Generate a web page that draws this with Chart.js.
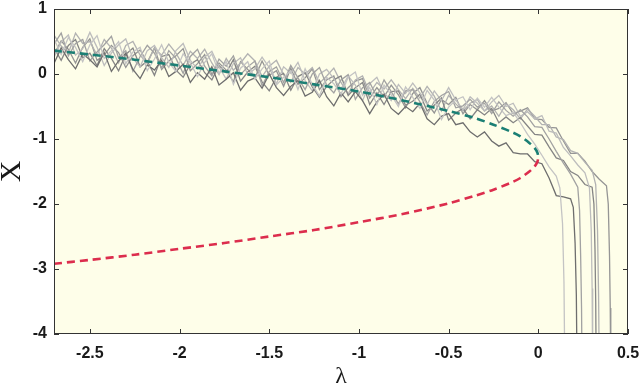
<!DOCTYPE html>
<html>
<head>
<meta charset="utf-8">
<script src="https://cdn.jsdelivr.net/npm/chart.js@4.4.0/dist/chart.umd.min.js"></script>
<style>
  html, body { margin: 0; padding: 0; background: #fff; }
</style>
</head>
<body>
<canvas id="myChart" width="640" height="388"></canvas>
<script>
// lambda grid for the noisy realisations
const lambdaGrid = [-2.70,-2.66,-2.62,-2.58,-2.54,-2.50,-2.46,-2.42,-2.38,-2.34,-2.30,-2.26,-2.22,-2.18,-2.14,-2.10,-2.06,-2.02,-1.98,-1.94,
  -1.90,-1.86,-1.82,-1.78,-1.74,-1.70,-1.66,-1.62,-1.58,-1.54,-1.50,-1.46,-1.42,-1.38,-1.34,-1.30,-1.26,-1.22,-1.18,-1.14,
  -1.10,-1.06,-1.02,-0.98,-0.94,-0.90,-0.86,-0.82,-0.78,-0.74,-0.70,-0.66,-0.62,-0.58,-0.54,-0.50,-0.46,-0.42,-0.38,-0.34,
  -0.30,-0.26,-0.22,-0.18,-0.14,-0.10,-0.06,-0.02,0.02,0.06,0.10,0.14,0.18,0.22,0.26,0.30,0.34,0.38];

const run1 = [.54,.30,.56,.41,.19,.45,.59,.24,.36,.50,.16,.34,.41,.05,.23,.45,.18,.04,.31,.17,
  -.04,.18,.31,.01,.19,-.16,.09,.19,-.08,.08,.20,-.17,-.05,.05,-.24,.08,-.16,-.34,-.05,-.15,
  -.31,-.05,.03,-.33,-.21,-.47,-.17,-.32,-.50,-.20,-.36,-.53,-.25,-.40,-.70,-.51,-.40,-.35,-.55,-.37,
  -.51,-.36,-.51,-.64,-.59,-.75,-.93,-1.08,-1.25,-1.43,-1.57];
const run2 = [.16,.40,.22,.08,.31,.22,.11,.33,.04,.20,.32,.07,-.07,.14,.06,.21,-.04,.04,.15,-.13,
  .02,-.08,.11,-.17,-.08,.02,-.25,-.11,-.06,-.22,0,-.21,-.33,-.19,-.10,-.34,-.28,-.10,-.35,-.49,
  -.29,-.43,-.27,-.41,-.61,-.43,-.31,-.53,-.62,-.50,-.58,-.45,-.69,-.78,-.65,-.61,-.78,-.75,-.89,-.97,
  -.89,-1.03,-1.11,-1.06,-1.21,-1.23,-1.23,-1.35,-1.38,-1.60,-1.87,-1.89,-1.92];
const run3 = [.46,.63,.28,.47,.53,.20,.34,.45,.58,.25,.36,.04,.27,.44,.32,.09,.36,.24,.01,.27,
  .38,.12,-.03,.23,.12,.28,-.01,.11,.20,-.18,.04,.11,-.13,.13,-.06,-.24,0,.10,-.17,-.29,
  -.09,-.01,-.39,-.21,-.13,-.35,-.09,-.27,-.46,-.26,-.24,-.43,-.63,-.42,-.33,-.27,-.52,-.49,-.39,-.51,
  -.45,-.61,-.43,-.56,-.65,-.55,-.66,-.81,-.82,-1.00,-1.19,-1.37,-1.54,-1.74];
const run4 = [.26,.49,.60,.29,.39,.64,.41,.13,.32,.45,.54,.24,.11,.36,.44,.25,.10,.36,.47,.21,
  .08,.26,.35,.11,-.08,.16,.25,-.01,.08,.26,.10,-.15,.11,.01,.18,-.10,-.26,0,.07,-.07,
  -.23,-.03,-.17,-.41,-.15,-.05,-.29,-.41,-.16,-.30,-.14,-.29,-.47,-.26,-.41,-.21,-.40,-.55,-.35,-.45,
  -.57,-.43,-.33,-.50,-.45,-.65,-.58,-.69,-.64,-.88,-.91,-1.13,-1.26,-1.40,-1.52];
const run5 = [.40,.21,.44,.53,.25,.32,.13,.39,.24,.05,.30,.40,.11,.20,-.02,.27,.30,.06,-.05,.15,
  .22,.02,-.09,.13,.02,.22,-.11,.03,.12,-.12,-.26,-.05,.01,-.25,-.04,.02,-.20,-.36,-.19,-.09,
  -.03,-.33,-.21,-.13,-.47,-.29,-.47,-.27,-.26,-.48,-.42,-.31,-.57,-.48,-.37,-.71,-.60,-.53,-.69,-.55,
  -.63,-.53,-.75,-.66,-.75,-.67,-.80,-.93,-.94,-1.12,-1.29,-1.33,-1.50,-1.56,-1.70,-1.74];
const run6 = [.60,.43,.32,.63,.47,.50,.29,.53,.40,.17,.44,.50,.29,.16,.40,.29,.46,.32,.13,.35,
  .24,.38,.17,-.01,.24,.06,.17,.31,.20,-.04,.12,.21,-.01,-.13,.10,0,.10,-.14,-.03,.09,
  -.13,-.31,-.09,-.03,-.29,-.13,-.23,-.09,-.24,-.38,-.22,-.37,-.19,-.34,-.57,-.33,-.46,-.57,-.45,-.39,
  -.57,-.49,-.65,-.46,-.55,-.69,-.54,-.65,-.78,-.78,-.97,-1.01,-1.18,-1.22,-1.36,-1.48];
const run7 = [.30,.51,.38,.17,.41,.54,.21,.29,.44,.33,.10,.28,.37,.18,.40,.07,.20,.28,.39,.05,
  .16,.30,-.01,.17,.06,-.12,.19,.07,-.06,.20,-.02,.05,-.19,.09,-.16,-.06,.08,-.24,-.09,-.03,
  -.35,-.21,-.11,-.07,-.37,-.21,-.35,-.17,-.32,-.52,-.30,-.21,-.45,-.60,-.39,-.47,-.36,-.61,-.47,-.55,
  -.41,-.57,-.53,-.44,-.61,-.57,-.52,-.69,-.70,-.82,-.83,-1.03,-1.22,-1.22,-1.34,-1.50,-1.62,-1.72];
const runs = [run1, run2, run3, run4, run5, run6, run7];

// collapse of each realisation after the tipping point
const dropLam = [[0.12,0.135,0.143,0.148],[0.195,0.205,0.212,0.216],[0.23,0.236,0.241,0.244],
  [0.285,0.295,0.30,0.303],[0.31,0.316,0.32,0.323],[0.32,0.33,0.336,0.34],[0.39,0.397,0.401,0.404]];
const dropX = [[-1.75,-2.3,-3.2,-4.6],[-2.05,-2.6,-3.4,-4.6],[-2.1,-2.8,-3.6,-4.6],
  [-1.75,-2.4,-3.3,-4.6],[-2.0,-2.7,-3.5,-4.6],[-1.7,-2.4,-3.4,-4.6],[-2.0,-2.8,-3.6,-4.6]];
const runColors = ['#c4c4c4','#6e6e6e','#a2a2a2','#bdbdbd','#858585','#b2b2b2','#959595'];

// stable (teal) and unstable (red) equilibrium branches
const branchLam = [-2.70,-2.50,-2.25,-2.00,-1.75,-1.50,-1.25,-1.00,-0.75,-0.50,-0.35,-0.25,-0.15,-0.10,-0.05,-0.02,-0.005,0];
const stableX = [0.36,0.30,0.22,0.13,0.04,-0.05,-0.16,-0.27,-0.41,-0.57,-0.68,-0.78,-0.89,-0.96,-1.06,-1.14,-1.21,-1.28];
const unstableX = [-2.92,-2.86,-2.78,-2.69,-2.60,-2.50,-2.40,-2.28,-2.15,-1.99,-1.87,-1.78,-1.67,-1.60,-1.50,-1.42,-1.35,-1.28];

const xTicks = [-2.5,-2,-1.5,-1,-0.5,0,0.5];
const yTicks = [-4,-3,-2,-1,0,1];

const datasets = [];
datasets.push({
  data: branchLam.map((l, i) => ({x: l, y: stableX[i]})),
  borderColor: '#1b7f74', borderWidth: 2.6, borderDash: [8, 5],
  pointRadius: 0, showLine: true, tension: 0.3, order: 0
});
datasets.push({
  data: branchLam.map((l, i) => ({x: l, y: unstableX[i]})),
  borderColor: '#dc2d4d', borderWidth: 2.6, borderDash: [8, 5],
  pointRadius: 0, showLine: true, tension: 0.3, order: 0
});
runs.forEach((r, k) => {
  const pts = r.map((v, i) => ({x: lambdaGrid[i], y: v}));
  dropLam[k].forEach((l, j) => pts.push({x: l, y: dropX[k][j]}));
  datasets.push({
    data: pts, borderColor: runColors[k], borderWidth: 1.3,
    pointRadius: 0, showLine: true, tension: 0, order: 1, clip: 0
  });
});

const frame = {
  id: 'frame',
  beforeDraw(chart) {
    const {ctx, chartArea: a} = chart;
    ctx.save();
    ctx.fillStyle = '#fefee9';
    ctx.fillRect(a.left, a.top, a.right - a.left, a.bottom - a.top);
    ctx.restore();
  },
  afterDraw(chart) {
    const {ctx, chartArea: a, scales} = chart;
    ctx.save();
    ctx.strokeStyle = '#333';
    ctx.lineWidth = 1;
    ctx.strokeRect(a.left + 0.5, a.top + 0.5, a.right - a.left - 1, a.bottom - a.top - 1);
    ctx.beginPath();
    xTicks.forEach(v => {
      const p = Math.round(scales.x.getPixelForValue(v)) + 0.5;
      ctx.moveTo(p, a.bottom); ctx.lineTo(p, a.bottom - 5);
      ctx.moveTo(p, a.top); ctx.lineTo(p, a.top + 5);
    });
    yTicks.forEach(v => {
      const p = Math.round(scales.y.getPixelForValue(v)) + 0.5;
      ctx.moveTo(a.left, p); ctx.lineTo(a.left + 5, p);
      ctx.moveTo(a.right, p); ctx.lineTo(a.right - 5, p);
    });
    ctx.stroke();
    ctx.restore();
  }
};

const tickFont = {family: "'Liberation Sans', Arial, sans-serif", size: 16, weight: 'bold'};

new Chart(document.getElementById('myChart'), {
  type: 'scatter',
  data: {datasets: datasets},
  options: {
    responsive: false,
    animation: false,
    layout: {padding: {left: 0, right: 12, top: 9, bottom: 0}},
    plugins: {legend: {display: false}, tooltip: {enabled: false}},
    scales: {
      x: {
        type: 'linear', min: -2.7, max: 0.5,
        grid: {display: false, drawTicks: false},
        border: {display: false},
        afterBuildTicks: s => { s.ticks = xTicks.map(v => ({value: v})); },
        afterFit: s => { s.height = 54; s.paddingLeft = 0; s.paddingRight = 0; },
        ticks: {font: tickFont, color: '#1a1a1a', padding: 10, maxRotation: 0, callback: v => String(v)},
        title: {display: true, text: 'λ', font: {family: "'Liberation Serif', serif", size: 24, lineHeight: 1}, color: '#1a1a1a', padding: {top: 0, bottom: -1}}
      },
      y: {
        type: 'linear', min: -4, max: 1,
        grid: {display: false, drawTicks: false},
        border: {display: false},
        afterBuildTicks: s => { s.ticks = yTicks.map(v => ({value: v})); },
        afterFit: s => { s.width = 54; s.paddingTop = 0; s.paddingBottom = 0; },
        ticks: {font: tickFont, color: '#1a1a1a', padding: 7, callback: v => String(v)},
        title: {display: true, text: 'X', font: {family: "'Liberation Serif', serif", size: 30, lineHeight: 1}, color: '#1a1a1a', padding: {top: -3, bottom: 0}}
      }
    }
  },
  plugins: [frame]
});
</script>
</body>
</html>
